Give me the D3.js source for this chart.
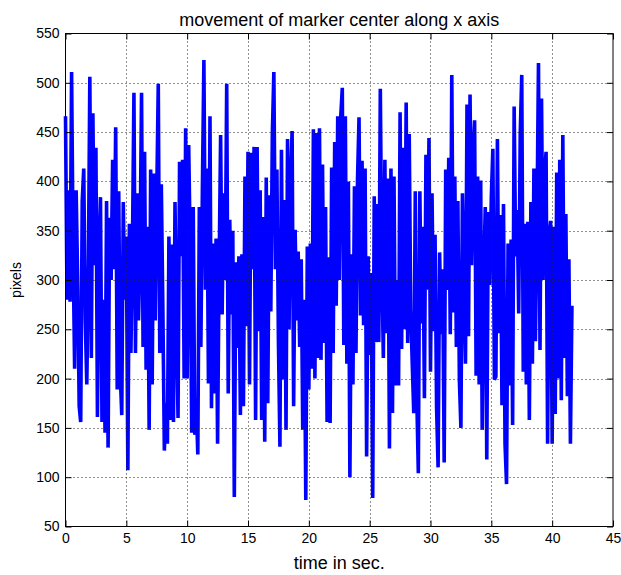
<!DOCTYPE html>
<html>
<head>
<meta charset="utf-8">
<script src="https://cdn.jsdelivr.net/npm/d3@7"></script>
<style>
  body { margin: 0; background: #fff; }
  text { font-family: "Liberation Sans", Arial, sans-serif; }
</style>
</head>
<body>
<svg id="chart"></svg>
<script>
// sample step of the recording, seconds
const sampleStep = 0.125;

// marker x position, pixels
const markerX = [
  466,280,391,278,511,330,210,391,300,172,156,380,413,260,194,302,506,221,469,315,
  434,161,330,384,156,280,145,380,130,363,300,422,311,455,189,390,205,163,379,280,
  344,107,357,226,330,490,226,388,259,325,490,232,430,209,354,148,412,194,408,259,
  385,499,226,397,273,127,175,134,344,158,336,156,379,256,160,420,324,422,200,454,
  200,437,333,145,374,143,173,123,374,232,391,523,290,413,195,466,170,337,185,342,
  134,311,447,265,388,300,499,185,361,265,350,80,318,231,324,163,326,172,405,253,
  430,194,429,311,435,158,435,248,391,158,364,136,404,175,386,268,447,511,311,412,
  239,131,432,199,381,148,443,250,398,451,172,351,259,329,232,321,148,280,77,334,
  189,337,210,453,200,449,221,454,219,417,236,374,156,323,155,414,226,440,274,466,
  300,466,495,234,466,215,400,100,326,194,395,226,401,465,264,421,254,413,121,324,
  224,307,79,385,237,377,237,494,316,221,422,246,403,129,413,165,405,193,300,193,
  470,230,434,250,480,236,448,270,215,165,390,180,104,390,256,354,180,427,290,444,
  207,388,248,346,171,110,328,245,311,115,412,290,424,245,508,267,405,232,380,198,
  150,388,298,215,478,243,488,315,431,462,203,405,194,401,148,303,374,118,369,295,
  384,433,199,202,443,246,366,173,377,134,93,337,193,341,153,476,324,371,266,447,
  508,207,357,194,359,158,379,215,413,238,357,520,229,484,300,408,430,134,346,360,
  134,354,164,409,200,422,178,447,221,367,182,321,134,274
];

const xTicks = [0, 5, 10, 15, 20, 25, 30, 35, 40, 45];
const yTicks = [50, 100, 150, 200, 250, 300, 350, 400, 450, 500, 550];

function main() {
  const width = 621, height = 575;
  const left = 65.5, right = 613, top = 33.5, bottom = 526.5;
  const tickLen = 6;

  const svg = d3.select("#chart")
    .attr("width", width)
    .attr("height", height);

  const x = d3.scaleLinear().domain([0, 45]).range([left, right]);
  const y = d3.scaleLinear().domain([50, 550]).range([bottom, top]);

  const data = markerX.map((v, i) => ({t: i * sampleStep, v: v}));

  // data line
  const line = d3.line().x(d => x(d.t)).y(d => y(d.v));
  svg.append("path")
    .datum(data)
    .attr("d", line)
    .attr("fill", "none")
    .attr("stroke", "#0000ff")
    .attr("stroke-width", 3.6)
    .attr("stroke-linejoin", "miter")
    .attr("stroke-miterlimit", 1.5);

  // dotted grid, drawn on top like matlab does here
  const grid = svg.append("g")
    .attr("stroke", "#222")
    .attr("stroke-width", 1)
    .attr("stroke-dasharray", "1,3");
  grid.selectAll("line.gx")
    .data(xTicks.slice(1, -1)).enter()
    .append("line")
      .attr("x1", d => Math.round(x(d)) + 0.5)
      .attr("x2", d => Math.round(x(d)) + 0.5)
      .attr("y1", top).attr("y2", bottom);
  grid.selectAll("line.gy")
    .data(yTicks.slice(1, -1)).enter()
    .append("line")
      .attr("y1", d => Math.round(y(d)) + 0.5)
      .attr("y2", d => Math.round(y(d)) + 0.5)
      .attr("x1", left).attr("x2", right);

  // axes with inward ticks
  const axisStyle = g => {
    g.select(".domain").remove();
    g.selectAll(".tick line").attr("stroke", "#000");
    g.selectAll("text").attr("font-size", 14).attr("fill", "#000")
      .attr("font-family", "'Liberation Sans', Arial, sans-serif");
  };

  svg.append("g")
    .attr("transform", `translate(0,${bottom})`)
    .call(d3.axisBottom(x).tickValues(xTicks).tickSizeInner(-tickLen).tickSizeOuter(0).tickPadding(7))
    .call(axisStyle);
  svg.append("g")
    .attr("transform", `translate(0,${top})`)
    .call(d3.axisTop(x).tickValues(xTicks).tickSizeInner(-tickLen).tickSizeOuter(0).tickFormat(""))
    .call(axisStyle);
  svg.append("g")
    .attr("transform", `translate(${left},0)`)
    .call(d3.axisLeft(y).tickValues(yTicks).tickSizeInner(-tickLen).tickSizeOuter(0).tickPadding(6))
    .call(axisStyle);
  svg.append("g")
    .attr("transform", `translate(${right},0)`)
    .call(d3.axisRight(y).tickValues(yTicks).tickSizeInner(-tickLen).tickSizeOuter(0).tickFormat(""))
    .call(axisStyle);

  // box
  svg.append("rect")
    .attr("x", left).attr("y", top)
    .attr("width", right - left).attr("height", bottom - top)
    .attr("fill", "none")
    .attr("stroke", "#000")
    .attr("stroke-width", 1);

  svg.append("text")
    .attr("x", (left + right) / 2).attr("y", 26)
    .attr("text-anchor", "middle")
    .attr("font-size", 18)
    .text("movement of marker center along x axis");

  svg.append("text")
    .attr("x", (left + right) / 2).attr("y", 569)
    .attr("text-anchor", "middle")
    .attr("font-size", 18)
    .text("time in sec.");

  svg.append("text")
    .attr("transform", `translate(21,${(top + bottom) / 2}) rotate(-90)`)
    .attr("text-anchor", "middle")
    .attr("font-size", 14)
    .text("pixels");
}

window.addEventListener("load", main);
</script>
</body>
</html>
